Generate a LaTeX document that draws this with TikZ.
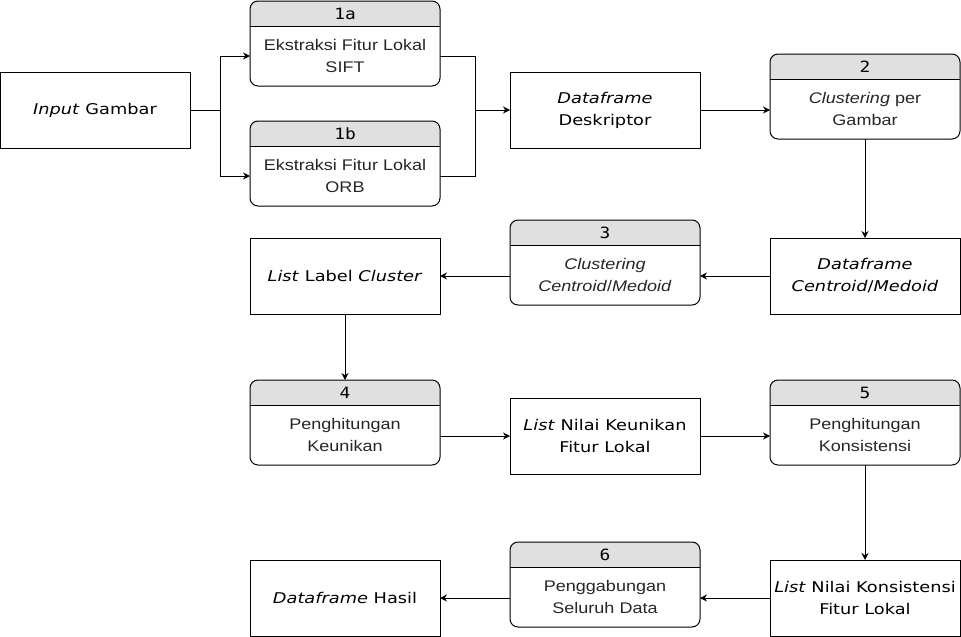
\documentclass[tikz,border=0pt]{standalone}
\usepackage{fontspec}
\setmainfont{Liberation Sans}
\newfontfamily\datafont[FakeStretch=1.2]{DejaVu Sans}
\newfontfamily\procfont[FakeStretch=1.17]{Liberation Sans}
\newfontfamily\hdrfont[FakeStretch=1.15]{DejaVu Sans Mono}
\usetikzlibrary{arrows.meta,calc}
\definecolor{hdrfill}{HTML}{E0E0E0}
\definecolor{txtgray}{HTML}{262626}
\tikzset{
  databox/.style={draw, line width=1pt, outer sep=0pt, minimum width=190pt, minimum height=76pt, inner sep=0pt, align=center, font=\datafont\fontsize{14.8}{22}\selectfont},
  procbox/.style={outer sep=0pt, minimum width=190pt, minimum height=85pt, inner sep=0pt},
  procline/.style={draw, line width=1pt, rounded corners=8pt},
  proctext/.style={align=center, text=txtgray, inner sep=0pt, font=\procfont\fontsize{15.4}{22}\selectfont},
  hdrtext/.style={inner sep=0pt, font=\hdrfont\fontsize{15.5}{17}\selectfont},
  conn/.style={line width=1pt, -{Stealth[length=7pt,width=7pt]}},
}
% name, center x, top y, header, body
\newcommand\mkproc[5]{%
  \node[procbox, anchor=north] (#1) at (#2,#3) {};
  \begin{scope}
    \clip[rounded corners=8pt] (#1.south west) rectangle (#1.north east);
    \fill[hdrfill] (#1.north west) rectangle ($(#1.north east)+(0,25)$);
  \end{scope}
  \draw[procline] (#1.south west) rectangle (#1.north east);
  \draw[line width=1pt] ($(#1.north west)+(0,25)$) -- ($(#1.north east)+(0,25)$);
  \node[hdrtext] (#1h) at ($(#1.north)+(0,13)$) {#4};
  \node[proctext] (#1t) at ($(#1.north)+(0,55)$) {#5};
}
\begin{document}
\begin{tikzpicture}[x=1pt,y=-1pt]
\useasboundingbox (0,0) rectangle (961,637);

% data boxes
\node[databox] (in)   at (95,110)  {\textit{Input} Gambar};
\node[databox] (dd)   at (605,110) {\textit{Dataframe}\\Deskriptor};
\node[databox] (dcm)  at (865,276) {\textit{Dataframe}\\\textit{Centroid}/\textit{Medoid}};
\node[databox] (llc)  at (345,276) {\textit{List} Label \textit{Cluster}};
\node[databox] (lnk)  at (605,436) {\textit{List} Nilai Keunikan\\Fitur Lokal};
\node[databox] (lnks) at (865,598) {\textit{List} Nilai Konsistensi\\Fitur Lokal};
\node[databox] (dh)   at (345,598) {\textit{Dataframe} Hasil};

% process boxes
\mkproc{pa}{345}{1}{1a}{Ekstraksi Fitur Lokal\\SIFT}
\mkproc{pb}{345}{121}{1b}{Ekstraksi Fitur Lokal\\ORB}
\mkproc{p2}{865}{54}{2}{\textit{Clustering} per\\Gambar}
\mkproc{p3}{605}{220}{3}{\textit{Clustering}\\\textit{Centroid}/\textit{Medoid}}
\mkproc{p4}{345}{380}{4}{Penghitungan\\Keunikan}
\mkproc{p5}{865}{380}{5}{Penghitungan\\Konsistensi}
\mkproc{p6}{605}{542}{6}{Penggabungan\\Seluruh Data}

% connectors
\coordinate (j1) at (220,110);
\coordinate (j2) at (475,110);
\draw[line width=1pt] (in.east) -- (j1);
\draw[conn] (j1) |- (pat -| pa.west);
\draw[conn] (j1) |- (pbt -| pb.west);
\draw[line width=1pt] (pat -| pa.east) -| (j2);
\draw[line width=1pt] (pbt -| pb.east) -| (j2);
\draw[conn] (j2) -- (dd.west);
\draw[conn] (dd.east) -- (dd.east -| p2.west);
\draw[conn] (p2.south) -- (dcm.north);
\draw[conn] (dcm.west) -- (dcm.west -| p3.east);
\draw[conn] (dcm.west -| p3.west) -- (llc.east);
\draw[conn] (llc.south) -- (p4.north);
\draw[conn] (lnk.west -| p4.east) -- (lnk.west);
\draw[conn] (lnk.east) -- (lnk.east -| p5.west);
\draw[conn] (p5.south) -- (lnks.north);
\draw[conn] (lnks.west) -- (lnks.west -| p6.east);
\draw[conn] (lnks.west -| p6.west) -- (dh.east);
\end{tikzpicture}
\end{document}
